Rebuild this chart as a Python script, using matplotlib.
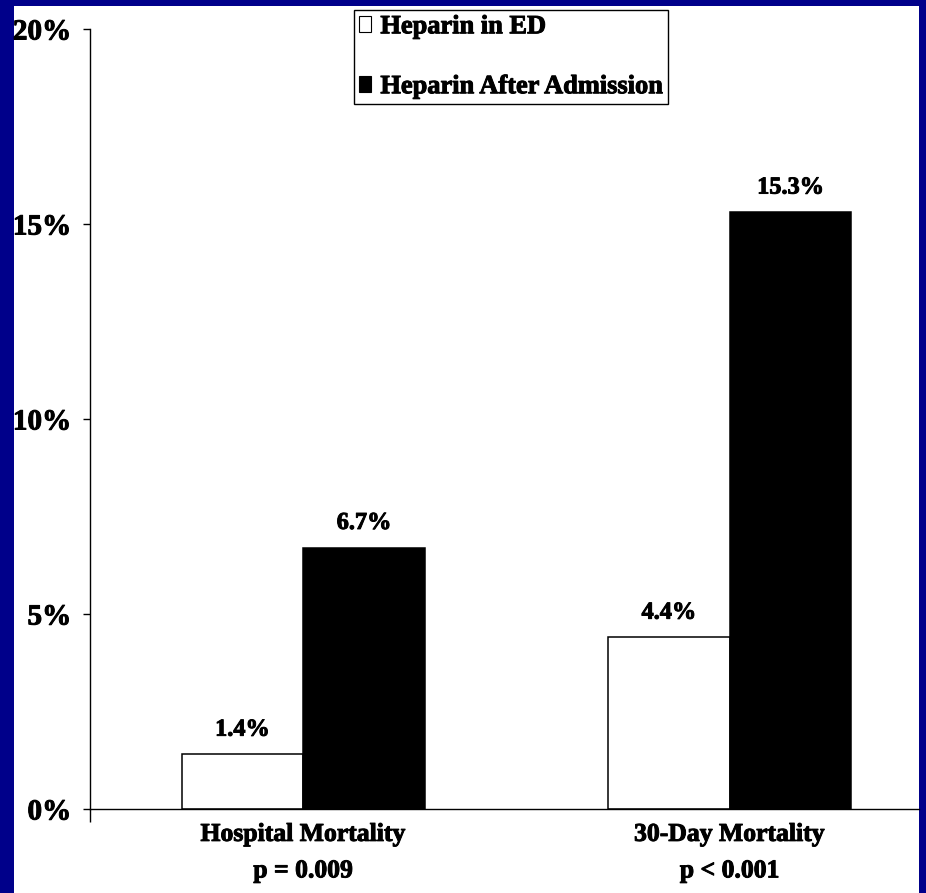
import matplotlib
matplotlib.use("Agg")
import matplotlib.pyplot as plt
import matplotlib.patheffects as pe
from matplotlib.patches import Rectangle, Patch
from matplotlib.ticker import FuncFormatter

# Data
categories = ["Hospital Mortality", "30-Day Mortality"]
p_values = ["p = 0.009", "p < 0.001"]
series_names = ["Heparin in ED", "Heparin After Admission"]
heparin_ed = [1.4, 4.4]
heparin_after = [6.7, 15.3]
y_ticks = [0, 5, 10, 15, 20]

W, H = 926, 893
DPI = 100
fig = plt.figure(figsize=(W / DPI, H / DPI), dpi=DPI, facecolor="#00008A")

# white slide panel inside the blue frame
fig.add_artist(Rectangle((14 / W, 0), (919 - 14) / W, (H - 6) / H,
                         transform=fig.transFigure, facecolor="white",
                         edgecolor="none", zorder=0))

FONT = "Liberation Serif"
plt.rcParams["font.family"] = [FONT, "DejaVu Serif"]
plt.rcParams["font.weight"] = "bold"
heavy = [pe.withStroke(linewidth=0.7, foreground="black")]

left_px, right_px, top_px, base_px = 90, 919, 29, 809
ax = fig.add_axes([left_px / W, (H - base_px) / H,
                   (right_px - left_px) / W, (base_px - top_px) / H])
ax.set_facecolor("none")

unit_px = 426.5
x = list(range(len(categories)))
bw = 0.285
lw = 1.1

ax.bar([i - bw / 2 for i in x], heparin_ed, width=bw, color="white",
       edgecolor="black", linewidth=lw, zorder=2)
ax.bar([i + bw / 2 for i in x], heparin_after, width=bw, color="black",
       edgecolor="black", linewidth=lw, zorder=2)

for i in x:
    for dx, v in ((-bw / 2, heparin_ed[i]), (bw / 2, heparin_after[i])):
        ax.annotate(f"{v:.1f}%", xy=(i + dx, v), xytext=(0, 13.5),
                    textcoords="offset points", ha="center", va="baseline",
                    fontsize=17.5, fontweight="bold", family=FONT,
                    path_effects=heavy)

ax.set_xlim(-0.5, -0.5 + (right_px - left_px) / unit_px)
ax.set_ylim(0, 20)

ax.set_yticks(y_ticks)
ax.yaxis.set_major_formatter(FuncFormatter(lambda v, _: f"{v:.0f}%"))
ax.tick_params(axis="y", direction="out", length=5, width=1.0, pad=8.5,
               labelsize=21, color="black")

ax.set_xticks(x)
ax.set_xticklabels([f"{c}\n{p}" for c, p in zip(categories, p_values)])
ax.tick_params(axis="x", which="major", length=0, pad=10, labelsize=18.5)
ax.set_xticks([-0.5], minor=True)
ax.tick_params(axis="x", which="minor", direction="out", length=9, width=1.0)
for lbl in ax.get_xticklabels():
    lbl.set_linespacing(1.75)
for lbl in ax.get_xticklabels() + ax.get_yticklabels():
    lbl.set_fontweight("bold")
    lbl.set_path_effects(heavy)

for s in ("top", "right"):
    ax.spines[s].set_visible(False)
for s in ("left", "bottom"):
    ax.spines[s].set_linewidth(1.0)
    ax.spines[s].set_color("black")

handles = [Patch(facecolor="white", edgecolor="black", linewidth=0.8),
           Patch(facecolor="black", edgecolor="black", linewidth=0.8)]
leg = fig.legend(handles, series_names, loc="upper left",
                 bbox_to_anchor=(354 / W, 1 - 10 / H),
                 bbox_transform=fig.transFigure, borderaxespad=0,
                 fancybox=False, framealpha=1, edgecolor="black",
                 prop={"family": FONT, "weight": "bold", "size": 19},
                 handlelength=0.45, handleheight=0.6, handletextpad=0.35,
                 labelspacing=1.4, borderpad=0.2)
leg.get_frame().set_linewidth(1.0)
leg.set_zorder(5)
for t in leg.get_texts():
    t.set_path_effects(heavy)

fig.savefig("out.png", dpi=DPI, facecolor=fig.get_facecolor())
